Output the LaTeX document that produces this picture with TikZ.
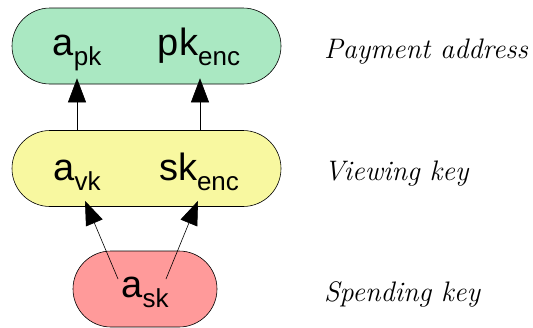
\documentclass[tikz,border=0pt]{standalone}
\usepackage{fontspec}
\newfontfamily\keyfont{Liberation Sans}
\usetikzlibrary{arrows.meta}

\definecolor{paygreen}{HTML}{AAE8C2}
\definecolor{viewyellow}{HTML}{F8F8A0}
\definecolor{spendred}{HTML}{FF9A9A}

\newcommand{\keyname}[2]{#1\raisebox{-0.28em}{\fontsize{26}{26}\selectfont #2}}

\tikzset{
  keybox/.style={draw, line width=0.6pt, rounded corners=38pt, minimum height=76pt},
  keytext/.style={font=\keyfont\fontsize{38}{38}\selectfont, anchor=base, inner sep=0pt},
  sidelabel/.style={font=\fontsize{28.2}{30}\selectfont\itshape, anchor=base west, inner sep=0pt},
  keyarrow/.style={line width=0.6pt, -{Triangle[length=24pt,width=18pt]}}
}

\begin{document}
\begin{tikzpicture}[x=1pt, y=1pt]
  \useasboundingbox (0,0) rectangle (533,-327);

  % boxes
  \node[keybox, fill=paygreen, minimum width=269pt] (paybox) at (146.5,-46) {};
  \node[keybox, fill=viewyellow, minimum width=269pt] (viewbox) at (146.5,-168.5) {};
  \node[keybox, fill=spendred, minimum width=144pt] (spendbox) at (145,-289) {};

  % key names
  \node[keytext] (apk) at (77,-55) {\keyname{a}{pk}};
  \node[keytext] (pkenc) at (199,-55) {\keyname{pk}{enc}};
  \node[keytext] (avk) at (77,-180) {\keyname{a}{vk}};
  \node[keytext] (skenc) at (199,-180) {\keyname{sk}{enc}};
  \node[keytext] (ask) at (145,-297) {\keyname{a}{sk}};

  % derivations
  \draw[keyarrow] (avk |- viewbox.north) -- ([yshift=6pt]apk |- paybox.south);
  \draw[keyarrow] ([xshift=1pt]skenc |- viewbox.north) -- ([shift={(1pt,6pt)}]pkenc |- paybox.south);
  \draw[keyarrow] ([shift={(-27pt,18pt)}]ask.base) -- ([shift={(8pt,6pt)}]avk |- viewbox.south);
  \draw[keyarrow] ([shift={(21pt,18pt)}]ask.base) -- ([shift={(-1pt,6pt)}]skenc |- viewbox.south);

  % side labels
  \node[sidelabel] (paylabel) at (324,-58) {Payment address};
  \node[sidelabel] (viewlabel) at (324,-180) {Viewing key};
  \node[sidelabel] (spendlabel) at (324,-301) {Spending key};
\end{tikzpicture}
\end{document}
